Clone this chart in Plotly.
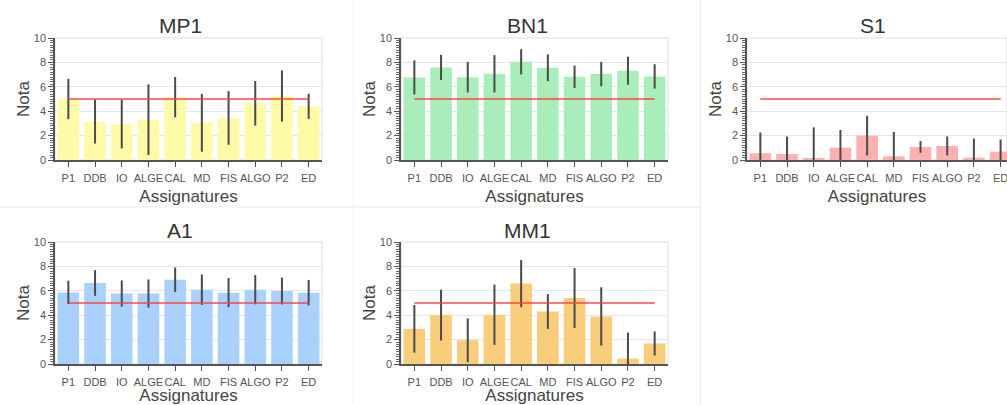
import plotly.graph_objects as go

subjects = ["P1", "DDB", "IO", "ALGE", "CAL", "MD", "FIS", "ALGO", "P2", "ED"]
pass_mark = [5] * len(subjects)

mp1_mean = [5.0, 3.15, 2.95, 3.3, 5.15, 3.05, 3.45, 4.65, 5.25, 4.4]
mp1_std = [1.65, 1.8, 2.0, 2.9, 1.65, 2.37, 2.2, 1.83, 2.1, 1.03]

bn1_mean = [6.77, 7.59, 6.79, 7.07, 8.05, 7.56, 6.82, 7.04, 7.32, 6.85]
bn1_std = [1.4, 1.03, 1.25, 1.53, 1.03, 1.1, 0.92, 1.0, 1.15, 1.0]

s1_mean = [0.55, 0.49, 0.1, 1.01, 2.0, 0.3, 1.07, 1.15, 0.19, 0.68]
s1_std = [1.7, 1.43, 2.58, 1.45, 1.62, 2.0, 0.48, 0.78, 1.56, 1.0]

a1_mean = [5.87, 6.64, 5.77, 5.77, 6.91, 6.09, 5.85, 6.09, 5.98, 5.85]
a1_std = [0.96, 1.05, 1.08, 1.16, 1.0, 1.25, 1.2, 1.2, 1.1, 1.04]

mm1_mean = [2.88, 4.01, 1.95, 4.04, 6.59, 4.31, 5.41, 3.9, 0.44, 1.68]
mm1_std = [1.95, 2.08, 1.8, 2.47, 1.93, 1.43, 2.45, 2.39, 2.14, 0.99]

groups = ["MP1", "BN1", "S1", "A1", "MM1"]
W, H = 1007, 405

panels = [
    dict(name="MP1", mean=mp1_mean, std=mp1_std, color="#fffaa8", x0=55, x1=322, top=38, bot=160, tx=180, ty=25, xr=[-0.5, 9.5]),
    dict(name="BN1", mean=bn1_mean, std=bn1_std, color="#a9eeba", x0=401, x1=668, top=38, bot=160, tx=527, ty=25, xr=[-0.5, 9.5]),
    dict(name="S1", mean=s1_mean, std=s1_std, color="#ffb0b0", x0=747, x1=1007, top=38, bot=160, tx=873, ty=25, xr=[-0.5, 9.24]),
    dict(name="A1", mean=a1_mean, std=a1_std, color="#a9d1fb", x0=55, x1=322, top=242, bot=364, tx=180, ty=230, xr=[-0.5, 9.5]),
    dict(name="MM1", mean=mm1_mean, std=mm1_std, color="#f9cd7c", x0=401, x1=668, top=242, bot=364, tx=527, ty=230, xr=[-0.5, 9.5]),
]

FONT = "Liberation Sans, Arial, sans-serif"
fig = go.Figure()
shapes = []
annotations = []

for i, p in enumerate(panels):
    k = "" if i == 0 else str(i + 1)
    xa, ya = "x" + k, "y" + k
    fig.add_trace(go.Bar(
        x=subjects, y=p["mean"], xaxis=xa, yaxis=ya,
        marker=dict(color=p["color"], line=dict(width=0)),
        error_y=dict(type="data", array=p["std"], visible=True, color="#4a4a4a", thickness=2, width=0),
        showlegend=False, hoverinfo="x+y",
    ))
    fig.add_trace(go.Scatter(
        x=subjects, y=pass_mark, xaxis=xa, yaxis=ya, mode="lines",
        line=dict(color="rgba(255,60,60,0.7)", width=2), showlegend=False, hoverinfo="skip",
    ))
    dom_x = [p["x0"] / W, p["x1"] / W]
    dom_y = [(H - p["bot"]) / H, (H - p["top"]) / H]
    fig.update_layout(**{
        "xaxis" + k: dict(
            domain=dom_x, anchor=ya, type="category", range=p["xr"], automargin=False,
            showline=True, linecolor="#555", linewidth=1.5,
            ticks="outside", ticklen=5, tickcolor="#555", tickangle=0, ticklabelstandoff=2,
            tickfont=dict(size=11, color="#555", family=FONT),
            title=dict(text="Assignatures", font=dict(size=17, color="#444", family=FONT), standoff=7),
            showgrid=False, fixedrange=True,
        ),
        "yaxis" + k: dict(
            domain=dom_y, anchor=xa, range=[0, 10], dtick=2, automargin=False,
            showline=True, linecolor="#555", linewidth=1.5,
            ticks="outside", ticklen=5, tickcolor="#555",
            minor=dict(dtick=0.2, ticks="outside", ticklen=3, tickcolor="#666", showgrid=False),
            tickfont=dict(size=11, color="#555", family=FONT),
            title=dict(text="Nota", font=dict(size=17, color="#444", family=FONT), standoff=0),
            showgrid=True, gridcolor="#e6e6e6", gridwidth=1, zeroline=False, fixedrange=True,
        ),
    })
    # light frame around plot area
    shapes.append(dict(type="rect", xref=xa + " domain", yref=ya + " domain",
                       x0=0, x1=1, y0=0, y1=1, line=dict(color="#dddddd", width=1), layer="below"))
    annotations.append(dict(text=p["name"], x=p["tx"] / W, y=(H - p["ty"]) / H,
                            xref="paper", yref="paper", showarrow=False, xanchor="center", yanchor="middle",
                            font=dict(size=21, color="#333", family=FONT)))

# card separators
shapes += [
    dict(type="line", xref="paper", yref="paper", x0=353 / W, x1=353 / W, y0=0, y1=1,
         line=dict(color="#f3f3f3", width=1)),
    dict(type="line", xref="paper", yref="paper", x0=700.5 / W, x1=700.5 / W, y0=0, y1=1,
         line=dict(color="#ececec", width=1)),
    dict(type="line", xref="paper", yref="paper", x0=0, x1=701 / W, y0=(H - 207) / H, y1=(H - 207) / H,
         line=dict(color="#ececec", width=1)),
]

fig.update_layout(
    width=W, height=H, margin=dict(l=0, r=0, t=0, b=0),
    paper_bgcolor="white", plot_bgcolor="white",
    bargap=0.19, shapes=shapes, annotations=annotations,
    font=dict(family=FONT, color="#444"),
)

fig.write_html("out.html", config=dict(displayModeBar=False))
